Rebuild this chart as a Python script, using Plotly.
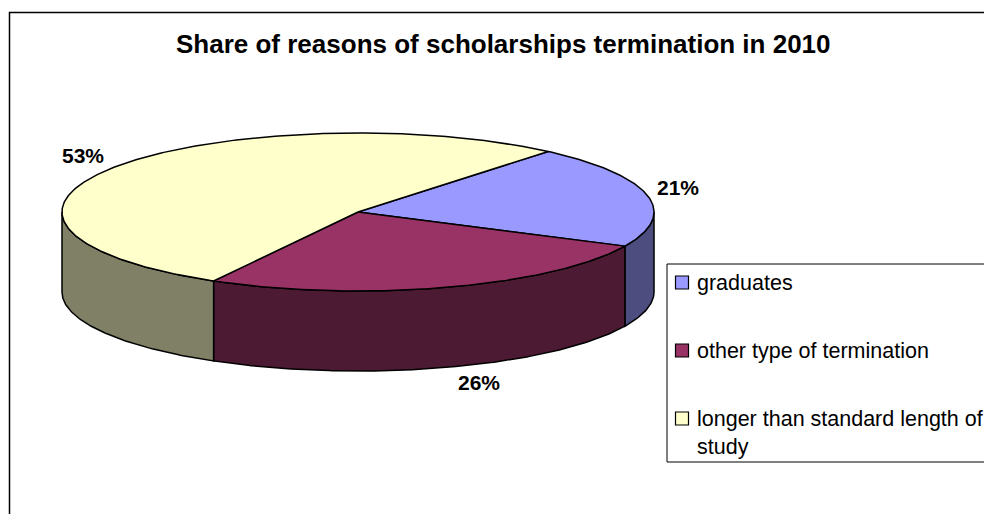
import numpy as np
import plotly.graph_objects as go

# Data
categories = ["graduates", "other type of termination", "longer than standard length of<br>study"]
shares = [21, 26, 53]
top_colors = ["#9999FF", "#993366", "#FFFFCC"]
side_colors = ["#4D4D80", "#4D1A33", "#808066"]
title_text = "Share of reasons of scholarships termination in 2010"

# Canvas and pie geometry (pixel-like coordinate space)
W, H = 984, 514
cx, cy = 358, 212          # centre of the top ellipse
rx, ry = 296, 79           # ellipse radii
depth = 80                 # thickness of the pie
start_angle = 40           # first slice starts here, clockwise from 12 o'clock
FONT = "Liberation Sans, Arial, sans-serif"


def ellipse_pts(a0, a1, dy=0.0, n=None):
    n = n or max(4, int(abs(a1 - a0) * 1.5))
    t = np.radians(np.linspace(a0, a1, n))
    return cx + rx * np.sin(t), cy - ry * np.cos(t) + dy


total = float(sum(shares))
bounds = []
a = start_angle
for v in shares:
    b = a + 360.0 * v / total
    bounds.append((a, b))
    a = b

fig = go.Figure()
line = dict(color="black", width=1.5)

# Side walls: only the front half (90..270 deg) is visible
for (a0, a1), col in zip(bounds, side_colors):
    for lo, hi in [(90, 270), (450, 630)]:
        s0, s1 = max(a0, lo), min(a1, hi)
        if s1 <= s0:
            continue
        xt, yt = ellipse_pts(s0, s1)
        xb, yb = ellipse_pts(s0, s1, dy=depth)
        xs = np.concatenate([xt, xb[::-1], xt[:1]])
        ys = np.concatenate([yt, yb[::-1], yt[:1]])
        fig.add_trace(go.Scatter(x=xs, y=ys, mode="lines", fill="toself",
                                 fillcolor=col, line=line, hoverinfo="skip",
                                 showlegend=False))

# Top faces
for (a0, a1), col in zip(bounds, top_colors):
    xa, ya = ellipse_pts(a0, a1)
    xs = np.concatenate([[cx], xa, [cx]])
    ys = np.concatenate([[cy], ya, [cy]])
    fig.add_trace(go.Scatter(x=xs, y=ys, mode="lines", fill="toself",
                             fillcolor=col, line=line, hoverinfo="skip",
                             showlegend=False))

annotations = []

# Percentage labels placed just outside each slice
for (a0, a1), v in zip(bounds, shares):
    m = np.radians((a0 + a1) / 2)
    s, c = np.sin(m), np.cos(m)
    dy = depth if c < 0 else 0
    px = cx + rx * s + np.sign(s) * 31
    py = cy - ry * c + dy - np.sign(c) * (6 + 10 * abs(c))
    annotations.append(dict(x=px, y=py, xref="x", yref="y", text=f"<b>{v}%</b>",
                            showarrow=False, xanchor="center", yanchor="middle",
                            font=dict(family=FONT, size=21, color="black")))

# Title
annotations.append(dict(x=503.5, y=44, xref="x", yref="y", text=f"<b>{title_text}</b>",
                        showarrow=False, xanchor="center", yanchor="middle",
                        font=dict(family=FONT, size=26, color="black")))

shapes = [
    # chart frame
    dict(type="rect", xref="x", yref="y", x0=9.5, y0=12.5, x1=W + 10, y1=H + 10,
         line=dict(color="black", width=1.5), fillcolor="rgba(0,0,0,0)", layer="below"),
    # legend box
    dict(type="rect", xref="x", yref="y", x0=667, y0=264, x1=W + 10, y1=462,
         line=dict(color="black", width=1), fillcolor="white", layer="below"),
]

# Legend entries
leg_y0, leg_step = 282.5, 68
for i, (name, col) in enumerate(zip(categories, top_colors)):
    yc = leg_y0 + i * leg_step
    shapes.append(dict(type="rect", xref="x", yref="y", x0=675.5, x1=688.5,
                       y0=yc - 6.5, y1=yc + 6.5, fillcolor=col,
                       line=dict(color="black", width=1.2)))
    nlines = name.count("<br>") + 1
    annotations.append(dict(x=695, y=yc + (nlines - 1) * 14, xref="x", yref="y",
                            text=name, showarrow=False, xanchor="left",
                            yanchor="middle", align="left",
                            font=dict(family=FONT, size=21.5, color="black")))

fig.update_layout(
    width=W, height=H,
    margin=dict(l=0, r=0, t=0, b=0),
    paper_bgcolor="white", plot_bgcolor="white",
    xaxis=dict(range=[0, W], visible=False, fixedrange=True),
    yaxis=dict(range=[H, 0], visible=False, fixedrange=True),
    shapes=shapes,
    annotations=annotations,
    showlegend=False,
)

fig.write_html("out.html")
